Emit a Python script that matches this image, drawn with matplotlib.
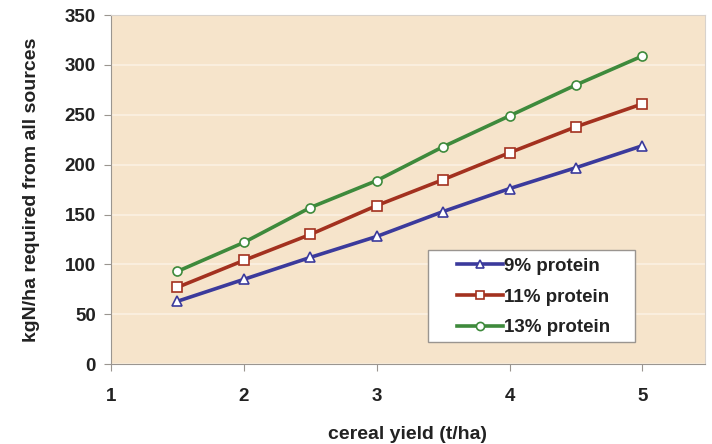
import matplotlib.pyplot as plt
from matplotlib.patches import Rectangle

plt.rcParams['font.family'] = ['Liberation Sans', 'DejaVu Sans']
plt.rcParams['font.weight'] = 'bold'
plt.rcParams['axes.labelweight'] = 'bold'

# cereal yield (t/ha) and N demand for each grain protein level
yield_t = [1.5, 2, 2.5, 3, 3.5, 4, 4.5, 5]
n_9 = [63, 85, 107, 128, 153, 176, 197, 219]
n_11 = [77, 104, 130, 159, 185, 212, 238, 261]
n_13 = [93, 122, 157, 184, 218, 249, 280, 309]

fig = plt.figure(figsize=(7.12, 4.44), dpi=100)
ax = fig.add_axes([0.156, 0.18, 0.834, 0.786])
ax.set_facecolor('#f6e4cb')

ax.plot(yield_t, n_9, color='#3b3a9c', lw=2.6, marker='^', ms=6.5,
        mfc='white', mec='#3b3a9c', mew=1.2, label='9% protein')
ax.plot(yield_t, n_11, color='#a3311f', lw=2.6, marker='s', ms=6.5,
        mfc='white', mec='#a3311f', mew=1.2, label='11% protein')
ax.plot(yield_t, n_13, color='#3e8a3c', lw=2.6, marker='o', ms=6.5,
        mfc='white', mec='#3e8a3c', mew=1.2, label='13% protein')

ax.set_xlim(1, 5.47)
ax.set_ylim(0, 350)
ax.set_xticks([1, 2, 3, 4, 5])
ax.set_yticks(range(0, 351, 50))
ax.yaxis.grid(True, color='#fbf1e2', lw=1.2)
ax.set_axisbelow(True)

for side in ['top', 'right']:
    ax.spines[side].set_color('#d8d2cc')
ax.spines['left'].set_color('#9a9590')
ax.spines['bottom'].set_color('#9a9590')
ax.tick_params(colors='#9a9590', labelcolor='#222222', labelsize=13.5,
               length=5)
ax.tick_params(axis='x', pad=12)
ax.tick_params(axis='y', pad=6)

ax.set_xlabel('cereal yield (t/ha)', fontsize=14, labelpad=15, color='#222222')
ax.set_ylabel('kgN/ha required from all sources', fontsize=14, labelpad=18,
              color='#222222')

# legend box is wider than its content, so draw the frame separately
ax.add_patch(Rectangle((0.534, 0.063), 0.348, 0.264, transform=ax.transAxes,
                       facecolor='white', edgecolor='#9a9590', lw=1.0,
                       zorder=5))
leg = ax.legend(loc='center', bbox_to_anchor=(0.712, 0.192),
                fontsize=13.5, frameon=False, handlelength=2.45,
                handletextpad=0.05, borderpad=0, labelspacing=0.72,
                borderaxespad=0, markerscale=0.9)
leg.set_zorder(6)
for t in leg.get_texts():
    t.set_color('#222222')

fig.savefig('out.png', dpi=100)
